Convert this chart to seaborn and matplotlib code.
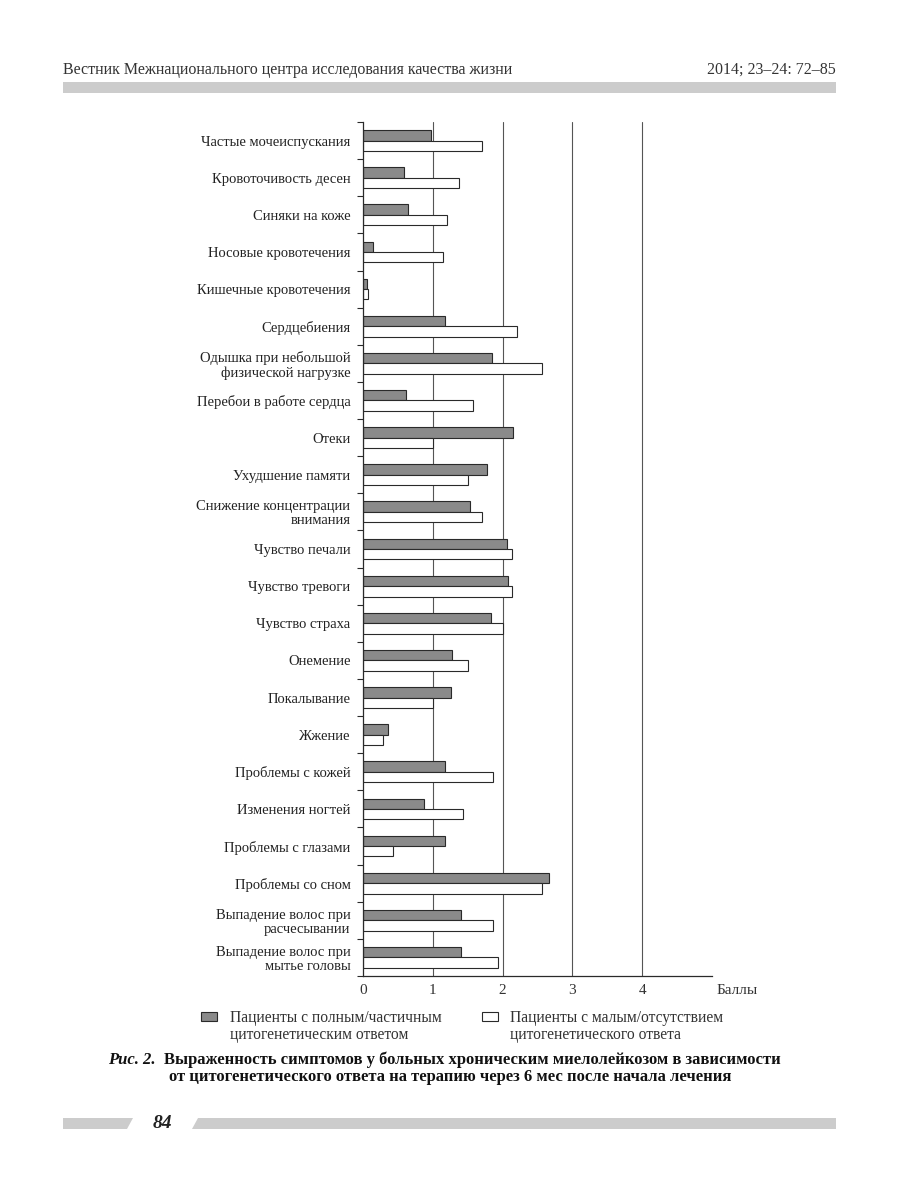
import matplotlib
matplotlib.use("Agg")
import matplotlib.pyplot as plt
from matplotlib.patches import Polygon, Rectangle
import seaborn as sns
import pandas as pd

symptoms = [
    "Частые мочеиспускания",
    "Кровоточивость десен",
    "Синяки на коже",
    "Носовые кровотечения",
    "Кишечные кровотечения",
    "Сердцебиения",
    "Одышка при небольшой\nфизической нагрузке",
    "Перебои в работе сердца",
    "Отеки",
    "Ухудшение памяти",
    "Снижение концентрации\nвнимания",
    "Чувство печали",
    "Чувство тревоги",
    "Чувство страха",
    "Онемение",
    "Покалывание",
    "Жжение",
    "Проблемы с кожей",
    "Изменения ногтей",
    "Проблемы с глазами",
    "Проблемы со сном",
    "Выпадение волос при\nрасчесывании",
    "Выпадение волос при\nмытье головы",
]
full_response = [0.97, 0.59, 0.64, 0.14, 0.06, 1.18, 1.85, 0.61, 2.15, 1.78, 1.53,
                  2.06, 2.08, 1.84, 1.28, 1.26, 0.36, 1.18, 0.88, 1.18, 2.67, 1.41, 1.41]
low_response = [1.71, 1.37, 1.21, 1.14, 0.07, 2.21, 2.57, 1.57, 1.00, 1.50, 1.71,
                2.14, 2.14, 2.00, 1.50, 1.00, 0.29, 1.86, 1.43, 0.43, 2.57, 1.86, 1.93]
group_labels = ["Пациенты с полным/частичным\nцитогенетическим ответом",
                "Пациенты с малым/отсутствием\nцитогенетического ответа"]
x_ticks = [0, 1, 2, 3, 4, 5]
x_tick_labels = ["0", "1", "2", "3", "4", ""]
x_unit = "Баллы"

df = pd.DataFrame({
    "symptom": symptoms * 2,
    "value": full_response + low_response,
    "group": [group_labels[0]] * len(symptoms) + [group_labels[1]] * len(symptoms),
})

sns.set_style("white")
plt.rcParams["font.family"] = ["Liberation Serif", "DejaVu Serif"]

W, H = 900, 1183
fig = plt.figure(figsize=(9, 11.83), dpi=100)
ax = fig.add_axes([363 / W, 1 - 976 / H, (712 - 363) / W, (976 - 122) / H])

dark = "#8a8a8a"
edge = "#2a2a2a"
for xv in [1, 2, 3, 4]:
    ax.axvline(xv, color="#555555", lw=0.8, zorder=0)

sns.barplot(data=df, y="symptom", x="value", hue="group", orient="h",
            palette=[dark, "#ffffff"], edgecolor=edge, linewidth=0.8,
            width=0.56, saturation=1, legend=False, ax=ax, zorder=2)

ax.set_xlim(0, 5)
ax.set_ylim(len(symptoms) - 0.5, -0.5)
ax.set_xticks(x_ticks)
ax.set_xticklabels(x_tick_labels, fontsize=11, color="#333333")
ax.tick_params(axis="x", direction="in", length=4, width=0.8, color=edge, pad=6)
ax.set_yticks(range(len(symptoms)))
ax.set_yticklabels(symptoms, fontsize=10.5, color="#222222", linespacing=1.1)
ax.set_yticks([i + 0.5 for i in range(-1, len(symptoms))], minor=True)
ax.tick_params(axis="y", which="major", length=0, pad=9)
ax.tick_params(axis="y", which="minor", length=4, width=0.8, color=edge, left=True)
ax.set_xlabel("")
ax.set_ylabel("")
for s in ["top", "right"]:
    ax.spines[s].set_visible(False)
for s in ["left", "bottom"]:
    ax.spines[s].set_color(edge)
    ax.spines[s].set_linewidth(0.9)
ax.annotate(x_unit, xy=(5.07, 0), xycoords=("data", "axes fraction"),
            xytext=(0, -6), textcoords="offset points", fontsize=11,
            color="#333333", va="top", ha="left", annotation_clip=False)

# Legend (manual, matching the page layout)
legend_specs = [(201, dark, 230, group_labels[0]), (482, "#ffffff", 510, group_labels[1])]
for bx, fc, tx, lab in legend_specs:
    fig.patches.append(Rectangle((bx / W, 1 - 1021 / H), 16 / W, 9 / H,
                                 transform=fig.transFigure, facecolor=fc,
                                 edgecolor=edge, lw=0.8))
    fig.text(tx / W, 1 - 1010 / H, lab, fontsize=11.2, color="#333333",
             va="top", ha="left", linespacing=1.05)

# Header
fig.text(63 / W, 1 - 70 / H, "Вестник Межнационального центра исследования качества жизни",
         fontsize=11.5, color="#333333", va="center", ha="left")
fig.text(836 / W, 1 - 70 / H, "2014; 23–24: 72–85", fontsize=11.5,
         color="#333333", va="center", ha="right")
fig.patches.append(Rectangle((63 / W, 1 - 93 / H), (836 - 63) / W, 11 / H,
                             transform=fig.transFigure, facecolor="#cccccc",
                             edgecolor="none"))

# Caption
fig.text(108 / W, 1 - 1060 / H, "Рис. 2.", fontsize=12, fontweight="bold",
         style="italic", ha="left", va="center", color="#111111")
fig.text(164 / W, 1 - 1060 / H,
         "Выраженность симптомов у больных хроническим миелолейкозом в зависимости",
         fontsize=12, fontweight="bold", ha="left", va="center", color="#111111")
fig.text(450 / W, 1 - 1077 / H,
         "от цитогенетического ответа на терапию через 6 мес после начала лечения",
         fontsize=12, fontweight="bold", ha="center", va="center", color="#111111")

# Footer
y0, y1 = 1 - 1129 / H, 1 - 1118 / H
fig.patches.append(Polygon([(63 / W, y0), (127 / W, y0), (133 / W, y1), (63 / W, y1)],
                           closed=True, transform=fig.transFigure,
                           facecolor="#cccccc", edgecolor="none"))
fig.patches.append(Polygon([(192 / W, y0), (836 / W, y0), (836 / W, y1), (198 / W, y1)],
                           closed=True, transform=fig.transFigure,
                           facecolor="#cccccc", edgecolor="none"))
fig.text(162 / W, 1 - 1123 / H, "84", fontsize=14, fontweight="bold", style="italic",
         ha="center", va="center", color="#222222")

fig.savefig("out.png", dpi=100)
